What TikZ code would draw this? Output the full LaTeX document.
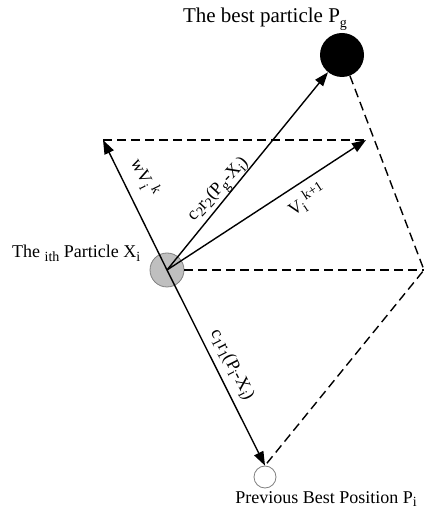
\documentclass[tikz,border=0pt]{standalone}
\usepackage{fontspec}
\setmainfont{Liberation Serif}
\usetikzlibrary{arrows.meta}
\newcommand{\lo}[1]{\raisebox{-0.45ex}{\fontsize{14}{14}\selectfont #1}}
\newcommand{\hi}[1]{\raisebox{0.8ex}{\fontsize{14}{14}\selectfont #1}}
\newcommand{\losup}[2]{\rlap{\lo{#1}}\hspace{0.35em}\hi{#2}}
\tikzset{
	vec/.style={line width=1.4pt,-{Triangle[length=14pt,width=10pt]}},
	aux/.style={line width=1.4pt,dash pattern=on 9pt off 5pt},
	lbl/.style={font=\fontsize{18}{20}\selectfont,inner sep=0pt},
}
\begin{document}
\begin{tikzpicture}[x=1pt,y=1pt]
	\useasboundingbox (0,0) rectangle (425,508);
	
	\node[circle,draw=gray,fill=gray!50,line width=0.8pt,minimum size=34pt,inner sep=0pt] (xi) at (167,238) {};
	\node[circle,fill=black,minimum size=44pt,inner sep=0pt] (pg) at (342,453) {};
	\node[circle,draw=gray,fill=white,line width=0.8pt,minimum size=22pt,inner sep=0pt] (pi) at (265,31) {};
	
	\coordinate (wv) at (103,368);
	\coordinate (vk) at (366,368);
	\coordinate (rc) at (424,238);
	
	\draw[aux] (wv)--(vk);
	\draw[aux] (xi)--(rc);
	\draw[aux] (pg)--(rc)--(pi.north);
	
	\draw[vec] (xi.center)--(wv);
	\draw[vec] (xi.center)--(pg);
	\draw[vec] (xi.center)--(vk);
	\draw[vec] (xi.center)--(pi.north);
	
	\node[lbl,font=\fontsize{21}{23}\selectfont,anchor=base] (tbest) at (265,485) {The best particle P\lo{g}};
	\node[lbl,anchor=base west] (tith) at (12,250) {The \lo{ith} Particle X\lo{i}};
	\node[lbl,anchor=base] (tprev) at (326,5) {Previous Best Position P\lo{i}};
	
	\node[lbl,rotate=-64] (twv) at (145,331) {wV\losup{i}{k}};
	\node[lbl,rotate=47] (tc2) at (219,318) {c\lo{2}r\lo{2}(P\lo{g}-X\lo{i})};
	\node[lbl,rotate=33] (tvk) at (307,308) {V\losup{i}{k+1}};
	\node[lbl,rotate=-63] (tc1) at (232,143) {c\lo{1}r\lo{1}(P\lo{i}-X\lo{i})};
\end{tikzpicture}
\end{document}
